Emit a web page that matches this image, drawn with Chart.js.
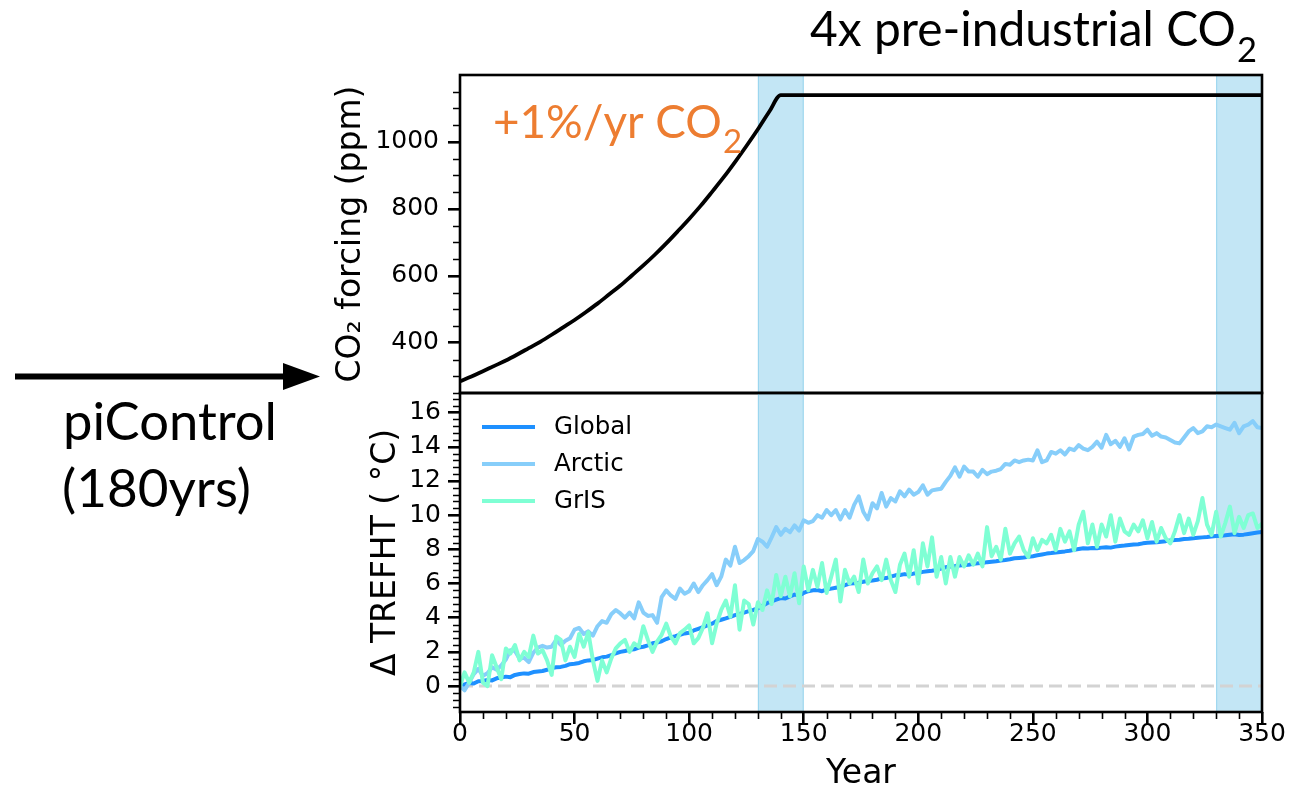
<!DOCTYPE html>
<html>
<head>
<meta charset="utf-8">
<script src="https://cdn.jsdelivr.net/npm/chart.js@4.4.1/dist/chart.umd.min.js"></script>
<style>
  html, body { margin: 0; padding: 0; background: #fff; overflow: hidden; }
  #wrap { position: relative; width: 1291px; height: 789px; }
  #wrap canvas { position: absolute; left: 0; top: 0; }
</style>
</head>
<body>
<div id="wrap">
  <canvas id="forcing" width="1291" height="789"></canvas>
  <canvas id="temp" width="1291" height="789"></canvas>
</div>
<script>
// ---- CO2 forcing (+1%/yr ramp, then held at 4x pre-industrial) ----
const co2Years = [0, 5, 10, 15, 20, 25, 30, 35, 40, 45, 50, 55, 60, 65, 70,
  75, 80, 85, 90, 95, 100, 105, 110, 115, 120, 125, 130, 135, 140, 350];
const co2Ppm = [285, 299, 315, 331, 347, 365, 384, 403, 424, 446, 468, 492, 517, 544, 571,
  601, 631, 663, 697, 733, 770, 809, 851, 894, 940, 988, 1038, 1091, 1140, 1140];
const co2TickLabels = [400, 600, 800, 1000];

// ---- Surface air temperature change (TREFHT), every 2 years from year 0 to 350 ----
const years = [];
for (let y = 0; y <= 350; y += 2) years.push(y);

const globalT = [0.00,0.10,0.18,0.15,0.28,0.30,0.35,0.33,0.45,0.50,
  0.55,0.52,0.65,0.70,0.74,0.72,0.82,0.85,0.88,0.95,
  1.05,1.10,1.12,1.18,1.28,1.30,1.35,1.45,1.50,1.52,
  1.60,1.68,1.72,1.80,1.92,2.00,2.05,2.12,2.15,2.25,
  2.30,2.38,2.50,2.55,2.62,2.75,2.85,2.92,3.00,3.08,
  3.12,3.25,3.35,3.45,3.55,3.65,3.80,3.88,3.96,4.05,
  4.15,4.22,4.30,4.38,4.45,4.55,4.70,4.85,4.95,5.05,
  5.15,5.12,5.25,5.35,5.30,5.45,5.55,5.60,5.62,5.55,
  5.65,5.70,5.75,5.80,5.90,6.00,6.02,6.05,6.10,6.15,
  6.18,6.22,6.30,6.32,6.40,6.48,6.50,6.55,6.52,6.58,
  6.62,6.68,6.72,6.75,6.80,6.88,6.95,7.00,7.02,7.05,
  7.08,7.10,7.15,7.18,7.20,7.25,7.28,7.30,7.35,7.38,
  7.42,7.48,7.50,7.52,7.56,7.60,7.65,7.70,7.75,7.78,
  7.82,7.85,7.88,7.92,7.98,8.02,8.06,8.05,8.08,8.06,
  8.10,8.12,8.10,8.16,8.20,8.22,8.25,8.28,8.30,8.35,
  8.38,8.40,8.42,8.45,8.48,8.52,8.55,8.56,8.60,8.62,
  8.65,8.68,8.70,8.72,8.75,8.78,8.80,8.82,8.85,8.88,
  8.84,8.86,8.90,8.94,8.98,9.02];

const arcticT = [0.00,-0.25,0.20,0.70,1.00,0.60,0.75,1.10,0.95,1.20,
  1.55,2.10,2.05,1.60,1.65,1.40,1.95,2.25,2.35,2.25,
  2.30,2.70,2.40,2.65,2.80,3.30,3.40,3.05,3.20,2.95,
  3.50,3.80,3.70,4.20,4.45,4.25,4.00,4.30,3.96,4.90,
  4.30,4.10,4.15,3.70,5.20,5.60,5.30,5.10,5.70,5.40,
  5.55,6.00,5.50,5.90,6.20,6.55,5.90,6.40,7.40,7.05,
  8.15,7.20,7.37,7.60,7.90,8.60,8.45,8.15,8.70,9.30,
  8.85,9.20,9.00,9.40,9.10,9.70,9.55,9.65,10.00,9.85,
  10.30,10.00,10.30,9.75,10.30,9.85,10.60,11.10,10.20,9.75,
  10.70,10.40,11.30,10.50,11.00,10.80,11.40,11.10,11.50,11.20,
  11.35,11.75,11.20,11.45,11.50,11.55,11.95,12.30,12.80,12.25,
  12.85,12.55,12.55,12.25,12.65,12.40,12.55,12.60,12.70,13.00,
  12.95,13.20,13.10,13.20,13.25,13.20,13.80,13.10,13.20,13.70,
  13.60,13.80,13.55,13.90,13.80,14.10,13.90,13.80,14.00,14.30,
  13.95,14.70,14.15,14.35,14.00,14.50,13.85,14.60,14.70,14.75,
  15.00,14.65,14.80,14.60,14.55,14.40,14.25,14.20,14.55,14.90,
  15.10,14.80,14.90,15.20,15.15,15.30,15.20,15.10,15.00,15.40,
  14.80,15.20,15.30,15.50,15.15,15.10];

const grisT = [0.00,0.80,0.20,0.80,2.00,0.20,0.00,1.80,1.10,0.40,
  2.20,1.90,2.40,1.50,2.00,1.70,2.95,1.90,2.10,1.50,
  0.65,2.90,2.70,1.50,2.30,1.70,3.05,2.30,3.15,1.50,
  0.30,1.50,0.80,1.60,2.20,2.50,2.70,2.00,2.50,2.30,
  3.50,2.70,2.00,2.60,3.00,3.65,2.90,2.50,3.10,3.30,
  3.55,2.50,2.80,3.40,4.25,2.50,3.65,4.45,5.00,4.05,
  5.90,3.30,5.00,4.80,3.60,4.90,4.45,5.60,4.80,6.50,
  5.25,6.40,5.25,6.60,4.85,7.00,5.60,6.80,5.80,7.20,
  5.45,6.40,7.40,4.95,6.80,6.00,6.40,5.50,7.40,6.00,
  6.60,7.00,6.20,7.40,6.20,5.50,7.10,7.75,6.40,7.95,
  6.00,8.35,7.00,8.70,6.40,7.55,6.00,7.55,6.40,7.55,
  7.00,7.65,7.10,7.75,7.00,9.30,7.60,8.15,7.40,9.20,
  7.75,8.35,8.75,7.95,7.55,8.65,7.95,8.55,8.35,8.85,
  7.95,9.20,8.45,9.05,7.95,9.45,10.20,8.35,9.45,8.15,
  9.45,8.75,10.00,8.45,9.80,9.05,8.85,9.45,9.05,9.70,
  8.65,9.60,8.45,9.25,8.65,8.35,9.05,10.00,8.95,9.80,
  8.85,9.65,11.00,9.45,8.85,10.20,8.75,9.55,10.50,8.95,
  9.90,9.25,10.00,10.10,9.25,9.50];

const zeroYears = [0, 350];
const zeroLine = [0, 0];

const tempTickLabels = [0, 2, 4, 6, 8, 10, 12, 14, 16];
const yearTickLabels = [0, 50, 100, 150, 200, 250, 300, 350];

// averaging windows shaded in both panels
const bandSpans = [[130, 150], [330, 350]];

// minor tick positions
const co2Minor = [];
for (let v = 250; v <= 1200; v += 50) if (v % 200 !== 0) co2Minor.push(v);
const tempMinor = [];
for (let k = -3; k <= 42; k++) if (k % 5 !== 0) tempMinor.push(k * 0.4);
const yearMinor = [];
for (let v = 10; v < 350; v += 10) if (v % 50 !== 0) yearMinor.push(v);

const pts = (xs, ys) => xs.map((x, i) => ({ x: x, y: ys[i] }));

Chart.defaults.font.family = "'DejaVu Sans', sans-serif";
Chart.defaults.color = '#000';
Chart.defaults.animation = false;

// ---- plugins ----
const bandsPlugin = {
  id: 'bands',
  beforeDatasetsDraw(chart) {
    const { ctx, chartArea: a, scales: { x } } = chart;
    ctx.save();
    for (const [s, e] of bandSpans) {
      const x0 = x.getPixelForValue(s), x1 = x.getPixelForValue(e);
      ctx.fillStyle = 'rgba(135,206,235,0.5)';
      ctx.fillRect(x0, a.top, x1 - x0, a.bottom - a.top);
      ctx.strokeStyle = 'rgba(135,206,235,0.75)';
      ctx.lineWidth = 1;
      ctx.strokeRect(x0 + 0.5, a.top, x1 - x0 - 1, a.bottom - a.top);
    }
    ctx.restore();
  }
};

function makeFrame(yMinor, xMinor) {
  return {
    id: 'frame',
    afterDraw(chart) {
      const { ctx, chartArea: a, scales } = chart;
      ctx.save();
      ctx.strokeStyle = '#000';
      ctx.lineWidth = 1.6;
      ctx.beginPath();
      for (const v of yMinor) {
        const p = Math.round(scales.y.getPixelForValue(v)) + 0.5;
        ctx.moveTo(a.left - 7, p); ctx.lineTo(a.left, p);
      }
      for (const v of xMinor) {
        const p = Math.round(scales.x.getPixelForValue(v)) + 0.5;
        ctx.moveTo(p, a.bottom); ctx.lineTo(p, a.bottom + 7);
      }
      ctx.stroke();
      ctx.lineWidth = 2.6;
      ctx.strokeRect(a.left, a.top, a.right - a.left, a.bottom - a.top);
      ctx.restore();
    }
  };
}

const keyPlugin = {
  id: 'seriesKey',
  afterDatasetsDraw(chart) {
    const { ctx, chartArea: a } = chart;
    ctx.save();
    chart.data.datasets.slice(0, 3).forEach((ds, i) => {
      const y = a.top + 34 + i * 37;
      ctx.strokeStyle = ds.borderColor;
      ctx.lineWidth = 4;
      ctx.beginPath(); ctx.moveTo(a.left + 22, y); ctx.lineTo(a.left + 75, y); ctx.stroke();
      ctx.fillStyle = '#000';
      ctx.font = "24.5px 'DejaVu Sans', sans-serif";
      ctx.textBaseline = 'middle';
      ctx.textAlign = 'left';
      ctx.fillText(ds.label, a.left + 94, y + 1);
    });
    ctx.restore();
  }
};

// text sized to a given width, with an optional lowered subscript
function fitText(ctx, text, sub, left, baseline, width, color) {
  const fam = "Lato, 'Open Sans', sans-serif";
  ctx.font = '100px ' + fam;
  const size = 100 * width / ctx.measureText(text).width;
  ctx.font = size + 'px ' + fam;
  ctx.fillStyle = color;
  ctx.textBaseline = 'alphabetic';
  ctx.textAlign = 'left';
  ctx.fillText(text, left, baseline);
  if (sub) {
    const s = size * 0.72;
    ctx.font = s + 'px ' + fam;
    ctx.fillText(sub, left + width + 1, baseline + size * 0.33);
  }
}

const notesPlugin = {
  id: 'notes',
  afterDraw(chart) {
    const { ctx, scales: { x, y } } = chart;
    ctx.save();
    // piControl arrow into the start of the run
    ctx.strokeStyle = '#000';
    ctx.lineWidth = 6;
    ctx.beginPath(); ctx.moveTo(15, 376.5); ctx.lineTo(286, 376.5); ctx.stroke();
    ctx.fillStyle = '#000';
    ctx.beginPath(); ctx.moveTo(283, 363); ctx.lineTo(320, 376.5); ctx.lineTo(283, 390); ctx.closePath(); ctx.fill();
    fitText(ctx, 'piControl', '', 63, 440, 214, '#000');
    fitText(ctx, '(180yrs)', '', 62, 507, 189, '#000');
    fitText(ctx, '4x pre-industrial CO', '2', 810, 46, 426, '#000');
    fitText(ctx, '+1%/yr CO', '2', x.getPixelForValue(14.4), y.getPixelForValue(1011), 229, '#ED7D31');
    ctx.restore();
  }
};

const tickGrid = { drawOnChartArea: false, drawTicks: true, tickLength: 12, lineWidth: 2.6, color: '#000' };

// ---- upper panel: CO2 forcing ----
new Chart(document.getElementById('forcing'), {
  type: 'line',
  data: {
    datasets: [{
      label: 'CO₂ forcing',
      data: pts(co2Years, co2Ppm),
      borderColor: '#000',
      borderWidth: 3.8,
      pointRadius: 0,
      cubicInterpolationMode: 'monotone',
      fill: false
    }]
  },
  options: {
    responsive: false,
    events: [],
    layout: { padding: { left: 332, top: 75, right: 29, bottom: 396 } },
    plugins: { legend: { display: false }, tooltip: { enabled: false } },
    scales: {
      x: { type: 'linear', min: 0, max: 350, display: false },
      y: {
        type: 'linear', min: 250, max: 1200,
        afterBuildTicks: s => { s.ticks = co2TickLabels.map(v => ({ value: v })); },
        afterFit: s => { s.width = 128; s.paddingTop = 0; s.paddingBottom = 0; },
        grid: tickGrid,
        border: { display: false },
        ticks: { font: { size: 25 }, padding: 9, callback: v => String(v) },
        title: { display: true, text: 'CO₂ forcing (ppm)', font: { size: 33 }, padding: 0 }
      }
    }
  },
  plugins: [bandsPlugin, makeFrame(co2Minor, []), notesPlugin]
});

// ---- lower panel: temperature change ----
new Chart(document.getElementById('temp'), {
  type: 'line',
  data: {
    datasets: [
      { label: 'Global', data: pts(years, globalT), borderColor: '#1E90FF', order: 2 },
      { label: 'Arctic', data: pts(years, arcticT), borderColor: '#87CEFA', order: 1 },
      { label: 'GrIS', data: pts(years, grisT), borderColor: '#7FFFD4', order: 0 },
      { label: 'zero', data: pts(zeroYears, zeroLine), borderColor: '#d3d3d3', borderDash: [13, 6], borderWidth: 3, borderCapStyle: 'butt', order: 3 }
    ]
  },
  options: {
    responsive: false,
    events: [],
    layout: { padding: { left: 367, top: 393, right: 29, bottom: 0 } },
    elements: {
      point: { radius: 0 },
      line: { tension: 0, borderWidth: 4, borderJoinStyle: 'round', borderCapStyle: 'round', fill: false }
    },
    plugins: { legend: { display: false }, tooltip: { enabled: false } },
    scales: {
      x: {
        type: 'linear', min: 0, max: 350,
        afterBuildTicks: s => { s.ticks = yearTickLabels.map(v => ({ value: v })); },
        afterFit: s => { s.height = 77; s.paddingLeft = 0; s.paddingRight = 0; },
        grid: tickGrid,
        border: { display: false },
        ticks: { font: { size: 25 }, padding: -5, maxRotation: 0, autoSkip: false, callback: v => String(v) },
        title: { display: true, text: 'Year', font: { size: 33 }, padding: { top: 0, bottom: -5 } }
      },
      y: {
        type: 'linear', min: -1.52, max: 17.15,
        afterBuildTicks: s => { s.ticks = tempTickLabels.map(v => ({ value: v })); },
        afterFit: s => { s.width = 93; s.paddingTop = 0; s.paddingBottom = 0; },
        grid: tickGrid,
        border: { display: false },
        ticks: { font: { size: 25 }, padding: 7, callback: v => String(v) },
        title: { display: true, text: 'Δ TREFHT ( °C)', font: { size: 33 }, padding: 0 }
      }
    }
  },
  plugins: [bandsPlugin, makeFrame(tempMinor, yearMinor), keyPlugin]
});
</script>
</body>
</html>
